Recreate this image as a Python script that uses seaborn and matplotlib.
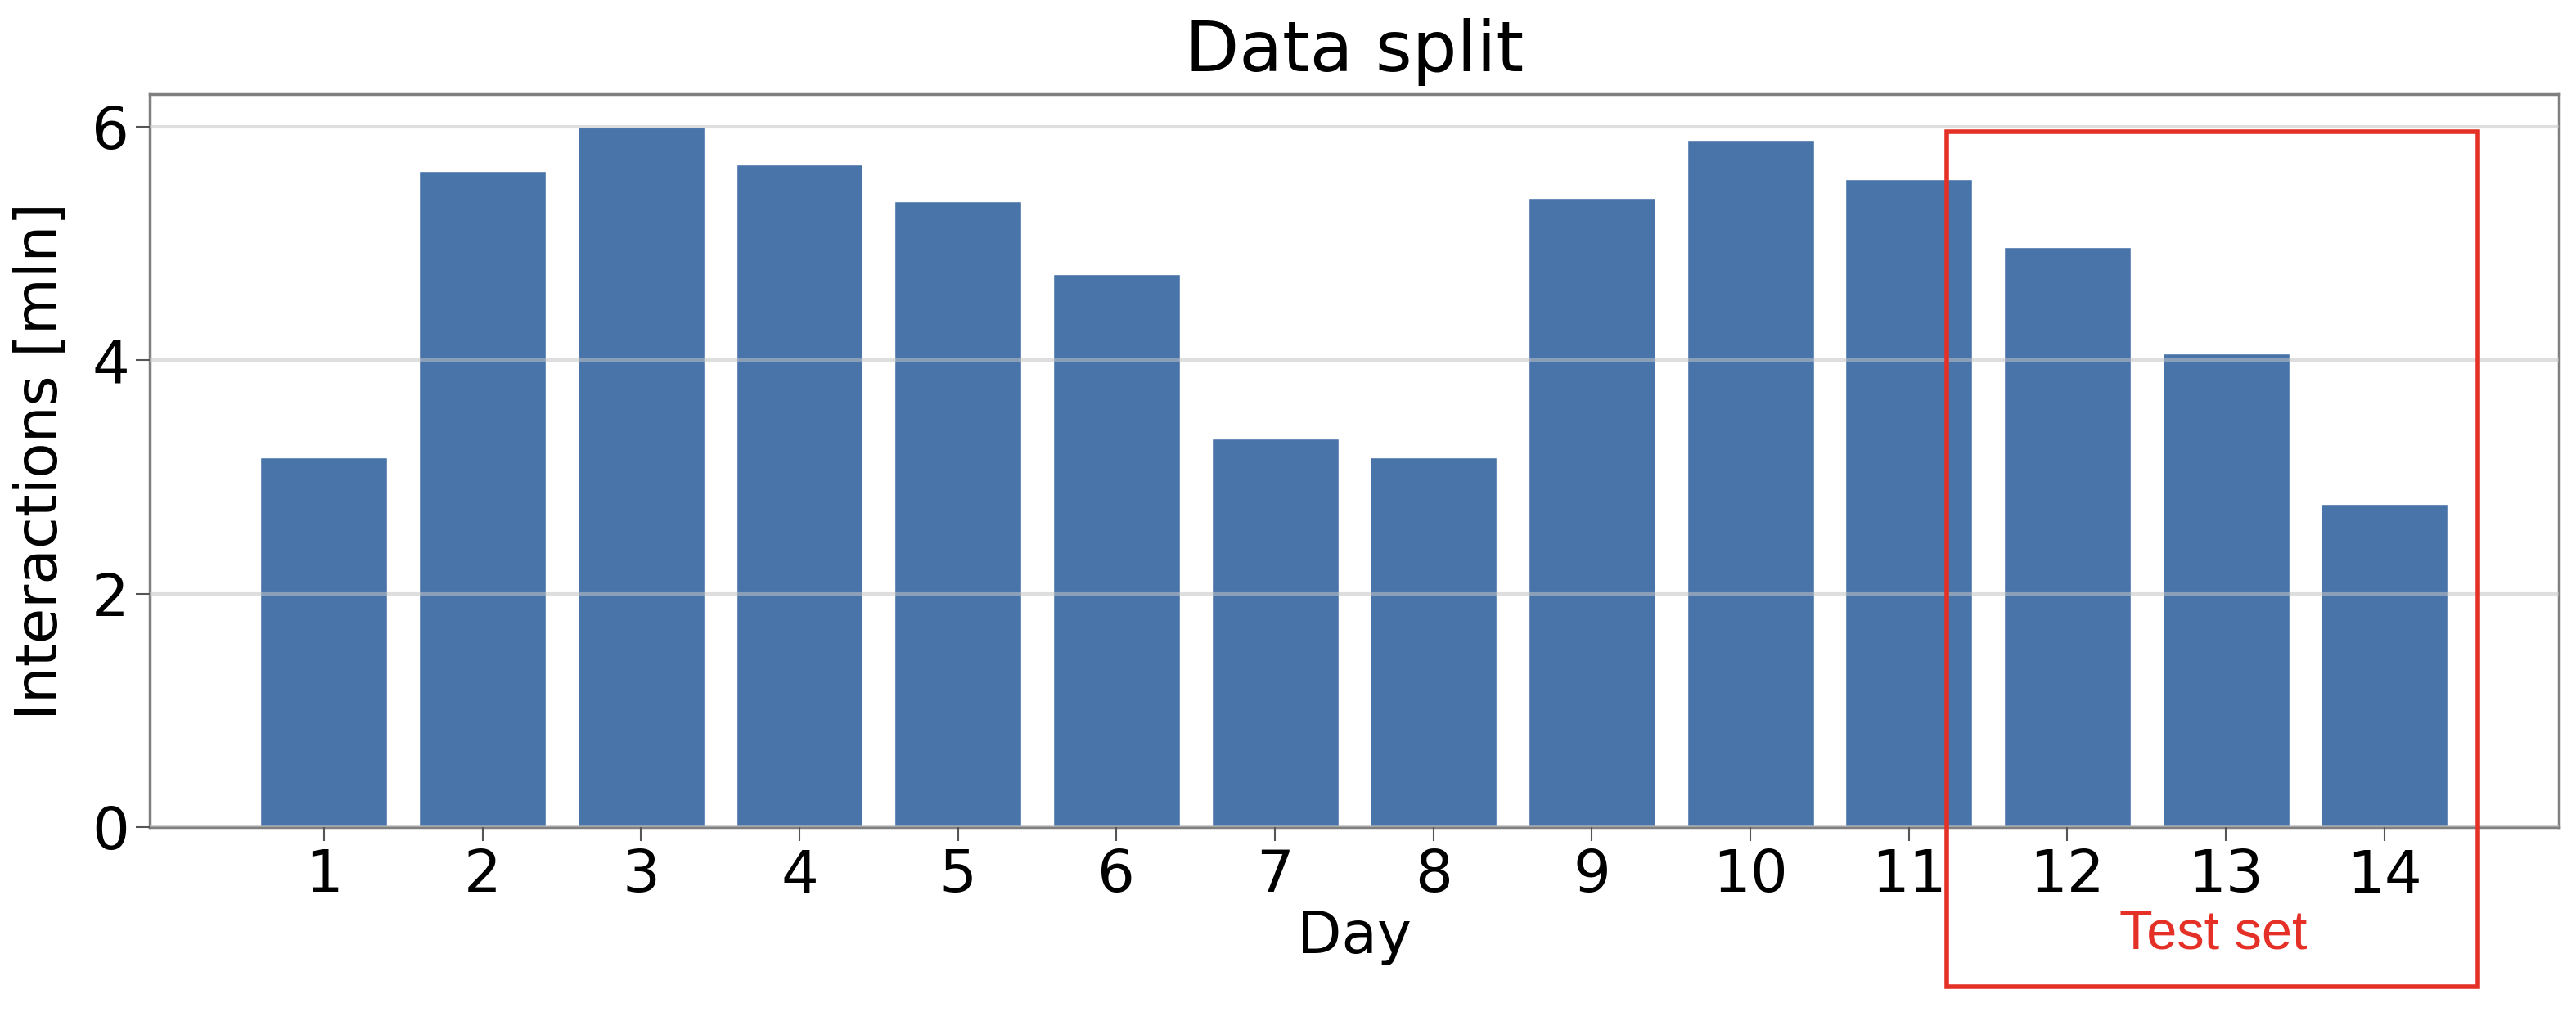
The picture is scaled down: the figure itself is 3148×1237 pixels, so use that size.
import seaborn as sns
import matplotlib.pyplot as plt
from matplotlib.patches import Rectangle

# Interactions per day (millions)
days = [str(d) for d in range(1, 15)]
interactions = [3.17, 5.62, 6.00, 5.68, 5.36, 4.74, 3.33,
                3.17, 5.39, 5.89, 5.55, 4.97, 4.06, 2.77]
y_ticks = [0, 2, 4, 6]

bar_color = "#4874aa"
test_color = "#e53027"

sns.set_style("white")
plt.rcParams['font.family'] = ['DejaVu Sans']
plt.rcParams['text.color'] = 'black'
plt.rcParams['axes.labelcolor'] = 'black'
plt.rcParams['xtick.labelcolor'] = 'black'
plt.rcParams['ytick.labelcolor'] = 'black'

fig = plt.figure(figsize=(31.48, 12.37), dpi=100)
ax = fig.add_axes([0.0581, 0.1827, 0.9352, 0.7243])

sns.barplot(x=days, y=interactions, color=bar_color, saturation=1,
            width=0.8, ax=ax)

ax.set_xlim(-1.1, 14.1)
ax.set_ylim(0, 6.28)
ax.set_yticks(y_ticks)

# light grid drawn over the bars
ax.set_axisbelow(False)
ax.yaxis.grid(True, color="#c4c4c4", linewidth=3, alpha=0.55)
ax.xaxis.grid(False)

for side in ["left", "right", "top", "bottom"]:
    ax.spines[side].set_visible(True)
    ax.spines[side].set_color("#808080")
    ax.spines[side].set_linewidth(2.5)

ax.tick_params(axis="both", which="major", labelsize=52, length=12,
               width=1.5, color="#555555", labelcolor="black", pad=6,
               direction="out", bottom=True, left=True)

ax.set_title("Data split", fontsize=62, pad=20, color="black")
ax.set_xlabel("Day", fontsize=51, labelpad=4, color="black")
ax.set_ylabel("Interactions [mln]", fontsize=51, labelpad=20, color="black")

# Test set box around the last three days
box = Rectangle((10.24, -1.367), 13.59 - 10.24, 5.96 + 1.367,
                transform=ax.transData, clip_on=False, fill=False,
                edgecolor=test_color, linewidth=4, zorder=5)
ax.add_patch(box)
ax.text(11.92, -1.044, "Test set", color=test_color, fontsize=48,
        family=["Liberation Sans", "DejaVu Sans"], ha="center",
        va="baseline", clip_on=False)

fig.savefig("out.png", dpi=100)
